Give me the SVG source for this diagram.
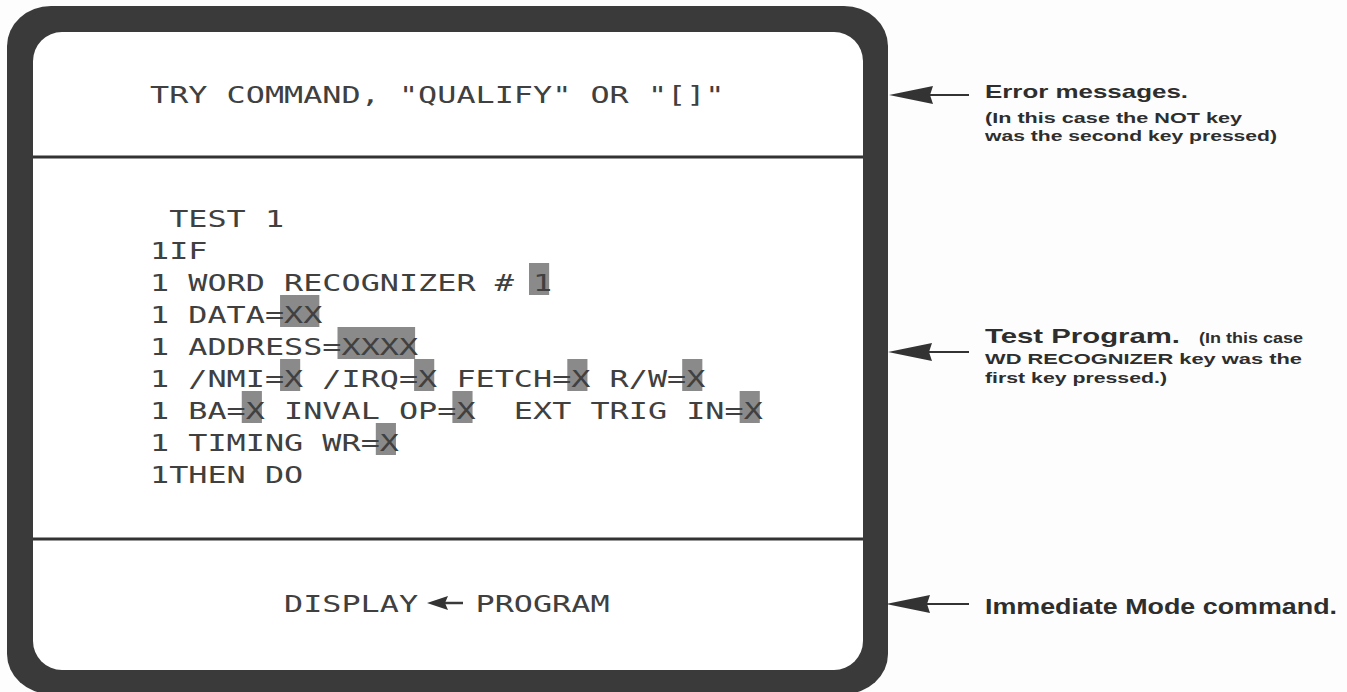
<svg xmlns="http://www.w3.org/2000/svg" width="1347" height="692" viewBox="0 0 1347 692">
<style>
.mono{font-family:"DejaVu Sans Mono","Liberation Mono",monospace;font-size:23px;fill:#404040;white-space:pre}
.hl{fill:#8a8a8a}
.lab{font-family:"Liberation Sans",Arial,sans-serif;font-weight:bold;fill:#2e2e2e}
.big{font-size:19px}
.sm{font-size:15.5px}
.div{stroke:#333;stroke-width:3}
.lead{stroke:#333;stroke-width:2;fill:none}
.head{fill:#333}
</style>
<defs>
<path id="ah" d="M0,0 L44,-9 L41,0 L44,9 Z"/>
</defs>
<rect width="1347" height="692" fill="#fdfdfd"/>
<g id="frame">
<rect x="7" y="6" width="881" height="688" rx="44" ry="40" fill="#3a3a3a"/>
<rect x="33" y="32" width="830" height="638" rx="29" ry="29" fill="#ffffff"/>
<line class="div" x1="33" y1="157" x2="863" y2="157"/>
<line class="div" x1="33" y1="539" x2="863" y2="539"/>
</g>
<g id="error-line">
<text class="mono" x="150" y="103" textLength="574.5" lengthAdjust="spacingAndGlyphs">TRY COMMAND, "QUALIFY" OR "[]"</text>
</g>
<g id="test-program">
<rect class="hl" x="529" y="263" width="20.15" height="32"/>
<rect class="hl" x="280.05" y="295" width="39.3" height="32"/>
<rect class="hl" x="337.5" y="327" width="77.6" height="32"/>
<rect class="hl" x="280.05" y="359" width="20.15" height="32"/>
<rect class="hl" x="414.1" y="359" width="20.15" height="32"/>
<rect class="hl" x="567.3" y="359" width="20.15" height="32"/>
<rect class="hl" x="682.2" y="359" width="20.15" height="32"/>
<rect class="hl" x="241.75" y="391" width="20.15" height="32"/>
<rect class="hl" x="452.4" y="391" width="20.15" height="32"/>
<rect class="hl" x="739.65" y="391" width="20.15" height="32"/>
<rect class="hl" x="375.8" y="423" width="20.15" height="32"/>
<text class="mono" x="150" y="227" textLength="134.05" lengthAdjust="spacingAndGlyphs"> TEST 1</text>
<text class="mono" x="150" y="259" textLength="57.45" lengthAdjust="spacingAndGlyphs">1IF</text>
<text class="mono" x="150" y="291" textLength="402.15" lengthAdjust="spacingAndGlyphs">1 WORD RECOGNIZER # 1</text>
<text class="mono" x="150" y="323" textLength="172.35" lengthAdjust="spacingAndGlyphs">1 DATA=XX</text>
<text class="mono" x="150" y="355" textLength="268.1" lengthAdjust="spacingAndGlyphs">1 ADDRESS=XXXX</text>
<text class="mono" x="150" y="387" textLength="555.35" lengthAdjust="spacingAndGlyphs">1 /NMI=X /IRQ=X FETCH=X R/W=X</text>
<text class="mono" x="150" y="419" textLength="612.8" lengthAdjust="spacingAndGlyphs">1 BA=X INVAL OP=X  EXT TRIG IN=X</text>
<text class="mono" x="150" y="451" textLength="248.95" lengthAdjust="spacingAndGlyphs">1 TIMING WR=X</text>
<text class="mono" x="150" y="483" textLength="153.2" lengthAdjust="spacingAndGlyphs">1THEN DO</text>
</g>
<g id="command-line">
<text class="mono" x="284" y="612" textLength="134.05" lengthAdjust="spacingAndGlyphs">DISPLAY</text>
<path class="head" d="M427,603 L448,596 L445,603 L448,610 Z"/>
<line x1="445" y1="603" x2="463" y2="603" stroke="#3a3a3a" stroke-width="2.5"/>
<text class="mono" x="475.5" y="612" textLength="134.05" lengthAdjust="spacingAndGlyphs">PROGRAM</text>
</g>
<g id="connectors">
<use href="#ah" class="head" x="889" y="95"/>
<line class="lead" x1="930" y1="95" x2="969" y2="95"/>
<use href="#ah" class="head" x="888" y="352"/>
<line class="lead" x1="929" y1="352" x2="969" y2="352"/>
<use href="#ah" class="head" x="886" y="604"/>
<line class="lead" x1="927" y1="604" x2="969" y2="604"/>
</g>
<g id="label-error">
<text class="lab big" x="985" y="98" textLength="203" lengthAdjust="spacingAndGlyphs">Error messages.</text>
<text class="lab sm" x="985" y="123" textLength="257" lengthAdjust="spacingAndGlyphs">(In this case the NOT key</text>
<text class="lab sm" x="985" y="141" textLength="292" lengthAdjust="spacingAndGlyphs">was the second key pressed)</text>
</g>
<g id="label-program">
<text class="lab" font-size="21" x="985" y="343" textLength="195" lengthAdjust="spacingAndGlyphs">Test Program.</text>
<text class="lab sm" x="1199" y="343" textLength="104" lengthAdjust="spacingAndGlyphs">(In this case</text>
<text class="lab sm" x="985" y="364" textLength="317" lengthAdjust="spacingAndGlyphs">WD RECOGNIZER key was the</text>
<text class="lab sm" x="985" y="383" textLength="182" lengthAdjust="spacingAndGlyphs">first key pressed.)</text>
</g>
<g id="label-immediate">
<text class="lab" font-size="22" x="985" y="614" textLength="352" lengthAdjust="spacingAndGlyphs">Immediate Mode command.</text>
</g>
</svg>
